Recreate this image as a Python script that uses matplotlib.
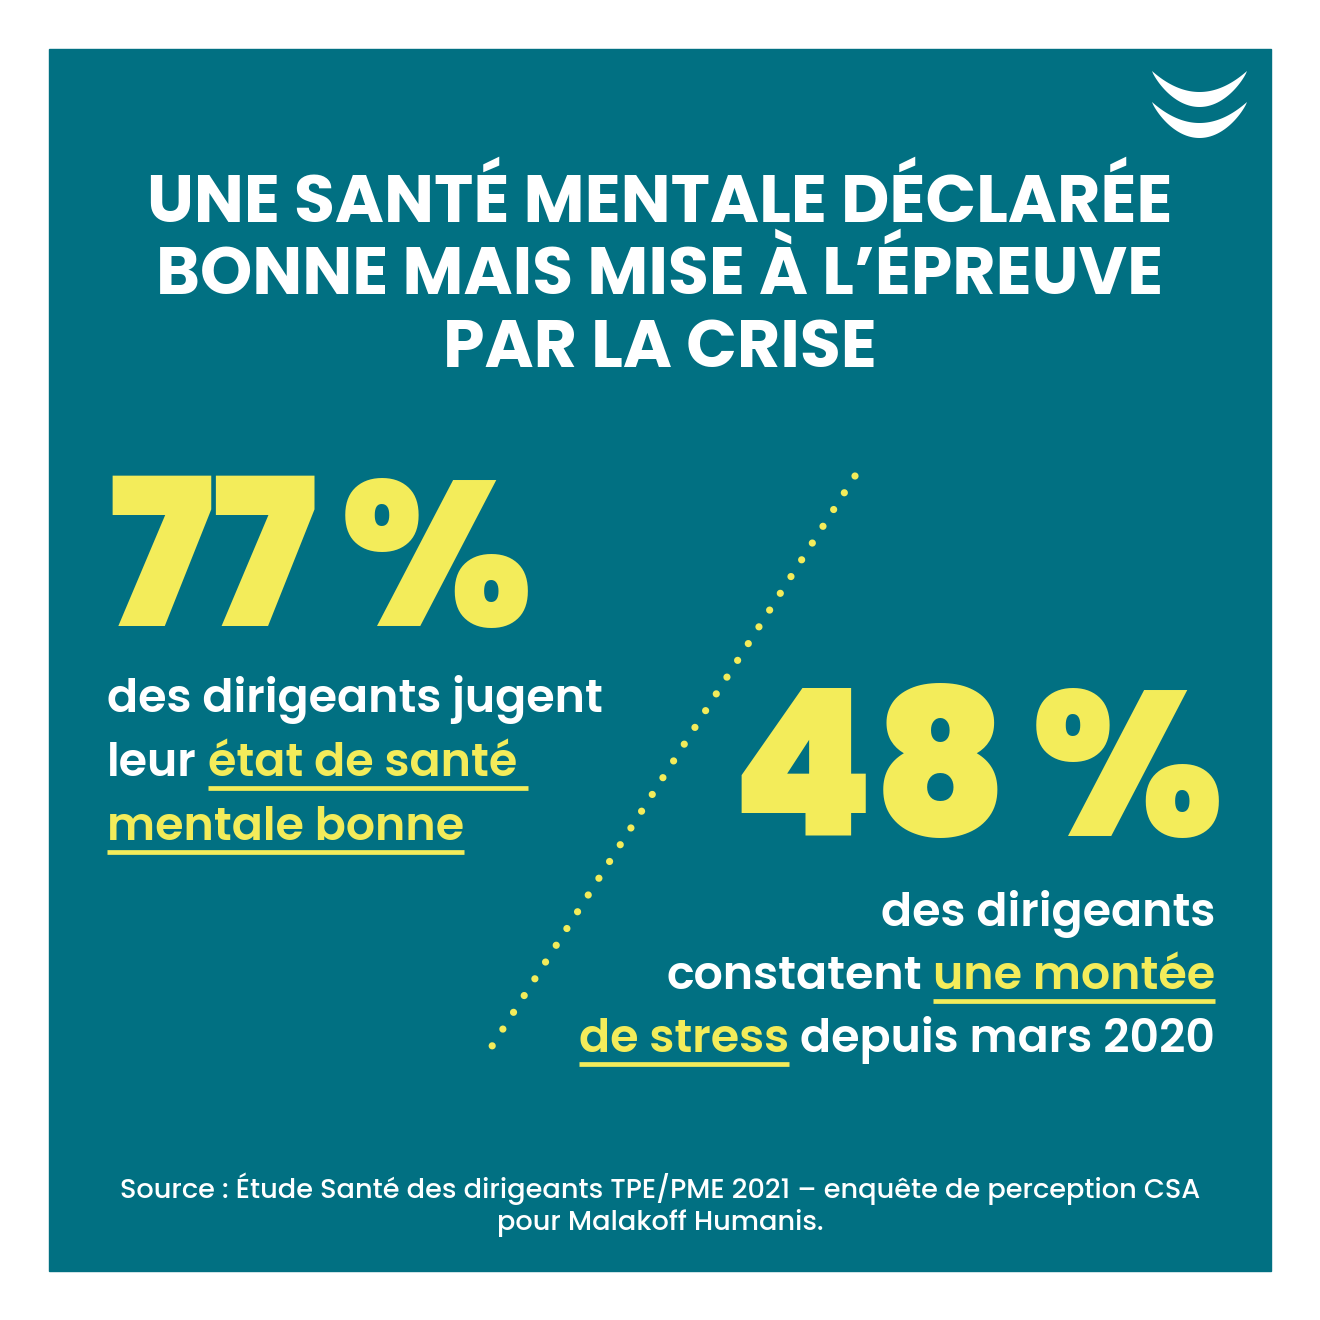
import matplotlib
matplotlib.use("Agg")
import matplotlib.pyplot as plt
from matplotlib.patches import Rectangle, Polygon
from matplotlib.textpath import TextPath
from matplotlib.font_manager import FontProperties
import numpy as np

TEAL = "#017082"
YELLOW = "#F3EC5A"
WHITE = "#FFFFFF"
FONT = "Poppins"

TITLE_LINES = ["UNE SANTÉ MENTALE DÉCLARÉE", "BONNE MAIS MISE À L’ÉPREUVE", "PAR LA CRISE"]
STAT_VALUES = ["77", "48"]
LEFT_TEXT = [
    [("des dirigeants jugent", WHITE, False)],
    [("leur", WHITE, False), ("état de santé", YELLOW, True)],
    [("mentale bonne", YELLOW, True)],
]
RIGHT_TEXT = [
    [("des dirigeants", WHITE, False)],
    [("constatent", WHITE, False), ("une montée", YELLOW, True)],
    [("de stress", YELLOW, True), ("depuis mars 2020", WHITE, False)],
]
SOURCE_LINES = [
    "Source : Étude Santé des dirigeants TPE/PME 2021 – enquête de perception CSA",
    "pour Malakoff Humanis.",
]

fig = plt.figure(figsize=(13.2, 13.2), dpi=100)
ax = fig.add_axes([0, 0, 1, 1])
ax.set_xlim(0, 1320)
ax.set_ylim(1320, 0)
ax.axis("off")
ax.add_patch(Rectangle((49, 49), 1222, 1222, color=TEAL, zorder=0))
r = fig.canvas.get_renderer()
PX = 100 / 72  # pixels per point


def width(s, size, weight):
    t = ax.text(0, 0, s, fontsize=size, family=FONT, weight=weight)
    w = t.get_window_extent(r).width
    t.remove()
    return w


def ink(s, weight):
    # glyph extents in points for a 100 pt font
    return TextPath((0, 0), s, size=100, prop=FontProperties(family=FONT, weight=weight)).get_extents()


def fit_width(s, target, weight):
    return 40 * target / width(s, 40, weight)


def fit_height(s, target, weight):
    return 100 * (target / PX) / ink(s, weight).height


def run(x, y, parts, size, weight, ha="left"):
    gap = width("x x", size, weight) - width("xx", size, weight)
    ws = [width(p[0], size, weight) for p in parts]
    total = sum(ws) + gap * (len(parts) - 1)
    cx = x - total if ha == "right" else x
    for (s, c, ul), w in zip(parts, ws):
        ax.text(cx, y, s, fontsize=size, family=FONT, weight=weight, color=c, va="baseline")
        if ul:
            extra = gap if s == "état de santé" else 0
            ax.plot([cx, cx + w + extra], [y + 12, y + 12], color=YELLOW, lw=3.4, solid_capstyle="butt")
        cx += w + gap


# title: mostly width fit, tempered by cap height
tw = fit_width(TITLE_LINES[0], 1057, 700)
th = fit_height("UNE", 44, 700)
ts = 0.7 * tw + 0.3 * th
for line, y in zip(TITLE_LINES, [222, 294, 367]):
    ax.text(660, y, line, fontsize=ts, family=FONT, weight=700, color=WHITE, ha="center", va="baseline")

# big numbers, sized by digit height
bs = fit_height("77", 149, 900)
for val, x, y in zip(STAT_VALUES, [108, 730], [626, 836]):
    t = ax.text(x, y, val, fontsize=bs, family=FONT, weight=900, color=YELLOW, va="baseline")
    end = t.get_window_extent(r).x1
    ax.text(end + 24, y, "%", fontsize=bs, family=FONT, weight=900, color=YELLOW, va="baseline")

# body text
body = 0.75 * fit_width("des dirigeants jugent", 508, 600) + 0.25 * fit_height("d", 32, 600)
for parts, y in zip(LEFT_TEXT, [712, 776, 840]):
    run(107, y, parts, body, 600)
for parts, y in zip(RIGHT_TEXT, [926, 989, 1052]):
    run(1215, y, parts, body, 600, ha="right")

# dotted divider
ax.plot([855, 487], [476, 1054], color=YELLOW, lw=5.2, linestyle=(0, (0.001, 2.75)),
        dash_capstyle="round")

# source
ss = fit_width(SOURCE_LINES[0], 1080, 500)
for line, y in zip(SOURCE_LINES, [1198, 1230]):
    ax.text(660, y, line, fontsize=ss, family=FONT, weight=500, color=WHITE, ha="center", va="baseline")

# logo: two crescents
u = np.linspace(-1, 1, 80)
for top in (71, 102):
    xs = 1199.5 + 47.5 * u
    lower = top + 36 * (1 - u ** 2) ** 0.85
    upper = top + 21 * (1 - u ** 2)
    pts = np.column_stack([np.r_[xs, xs[::-1]], np.r_[lower, upper[::-1]]])
    ax.add_patch(Polygon(pts, closed=True, color=WHITE, lw=0))

fig.savefig("out.png", dpi=100, facecolor="white")
